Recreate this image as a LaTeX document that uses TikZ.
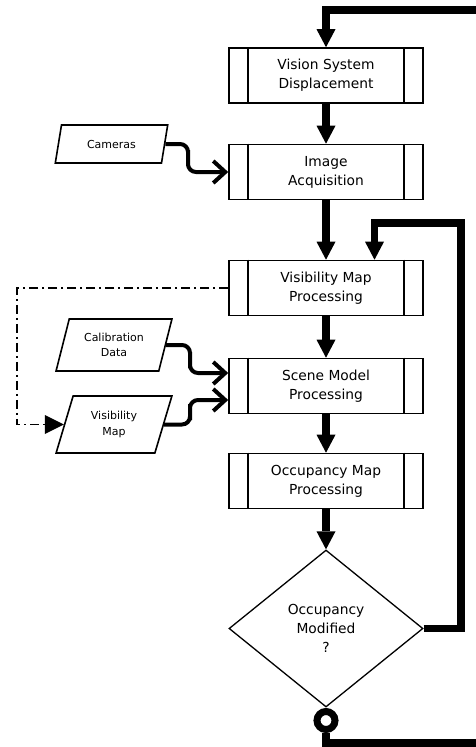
\documentclass[tikz,border=0pt]{standalone}
\usepackage{fontspec}
\setmainfont{DejaVu Sans}
\usetikzlibrary{shapes.geometric,arrows.meta}
\begin{document}
\begin{tikzpicture}[x=1pt,y=-1pt,
  proc/.style={draw, line width=1.6pt, minimum width=194pt, minimum height=55pt, inner sep=0pt, align=center, font=\fontsize{13.8}{19}\selectfont},
  data/.style={draw, line width=1.6pt, trapezium, trapezium left angle=70, trapezium right angle=110, trapezium stretches=true, align=center, inner sep=0pt, font=\fontsize{11}{15.7}\selectfont},
  decision/.style={draw, diamond, line width=1.3pt, minimum width=194pt, minimum height=157pt, inner sep=0pt, align=center, font=\fontsize{13.8}{19}\selectfont},
  flow/.style={line width=7.5pt, -{Triangle[width=19pt,length=18pt,line width=0pt]}},
  loopline/.style={line width=7.5pt},
  feed/.style={line width=4pt, rounded corners=8pt, -{Straight Barb[length=12pt,width=22pt]}},
  ctrl/.style={line width=1.5pt, dash pattern=on 9pt off 4pt on 2pt off 4pt, -{Triangle[width=19pt,length=19pt,line width=0pt]}},
  bar/.style={line width=1.6pt}
]
\useasboundingbox (0,0) rectangle (476,747);

\node[proc] (vsd) at (326,75.5) {Vision System\\Displacement};
\node[proc] (ia) at (326,172) {Image\\Acquisition};
\node[proc] (vmp) at (326,288) {Visibility Map\\Processing};
\node[proc] (smp) at (326,386) {Scene Model\\Processing};
\node[proc] (omp) at (326,481) {Occupancy Map\\Processing};
\node[decision] (om) at (326,628.5) {Occupancy\\Modified\\?};

\foreach \n in {vsd,ia,vmp,smp,omp}{
  \draw[bar] ([xshift=20pt]\n.north west) -- ([xshift=20pt]\n.south west);
  \draw[bar] ([xshift=-20pt]\n.north east) -- ([xshift=-20pt]\n.south east);
}

\node[data, minimum width=113pt, minimum height=38pt] (cam) at (111.5,144) {Cameras};
\node[data, minimum width=116pt, minimum height=52pt] (cal) at (114,345) {Calibration\\Data};
\node[data, minimum width=116pt, minimum height=57pt] (vis) at (114,424.5) {Visibility\\Map};

\node[circle, draw, line width=7pt, minimum size=18pt, inner sep=0pt] (ring) at (326,720.5) {};

\coordinate (topin) at (476,10);
\coordinate (rr) at (461,223);
\coordinate (botout) at (476,743);

\draw[flow] (vsd) -- (ia);
\draw[flow] (ia) -- (vmp);
\draw[flow] (vmp) -- (smp);
\draw[flow] (smp) -- (omp);
\draw[flow] (omp) -- (om);

\draw[flow] (topin) -| (vsd.north);
\draw[flow] (om.east) -| (rr) -| ([xshift=48.5pt]vmp.north);
\draw[loopline] (ring.south) |- (botout);

\draw[feed] (cam.right side) -| (188,158) |- (ia.west);
\draw[feed] (cal.right side) -| (190,360) |- ([yshift=13pt]smp.west);
\draw[feed] (vis.right side) -| (190,412) |- ([yshift=-14pt]smp.west);

\draw[ctrl] (vmp.west) -| (17,350) |- (vis.left side);
\end{tikzpicture}
\end{document}
